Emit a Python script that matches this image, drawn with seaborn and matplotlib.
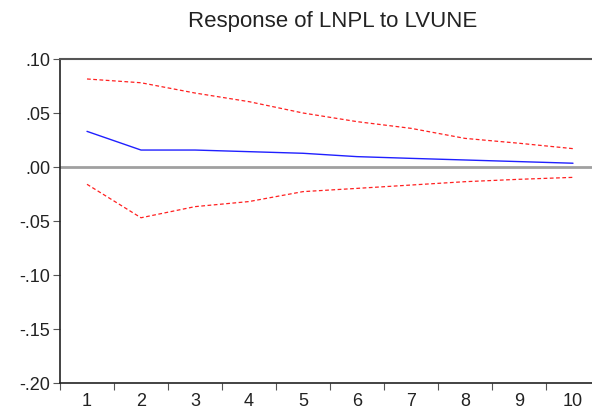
import seaborn as sns
import matplotlib.pyplot as plt
import matplotlib.ticker as mticker
import pandas as pd
import numpy as np

# ----------------------------
# Impulse response values
# ----------------------------
periods = [1, 2, 3, 4, 5, 6, 7, 8, 9, 10]
response = [0.033, 0.0157, 0.0157, 0.0142, 0.0127, 0.0096, 0.0080, 0.0065, 0.0050, 0.0035]
upper_band = [0.0815, 0.0780, 0.0685, 0.0605, 0.0500, 0.0420, 0.0358, 0.0265, 0.0220, 0.0170]
lower_band = [-0.0160, -0.0470, -0.0367, -0.0320, -0.0228, -0.0198, -0.0167, -0.0136, -0.0114, -0.0096]
y_ticks = [0.10, 0.05, 0.00, -0.05, -0.10, -0.15, -0.20]

df = pd.DataFrame({
    "Period": periods,
    "Response": response,
    "Upper": upper_band,
    "Lower": lower_band,
})

# ----------------------------
# Styling
# ----------------------------
sns.set_style("white")
plt.rcParams["font.family"] = ["Liberation Sans", "DejaVu Sans"]

fig = plt.figure(figsize=(5.92, 4.12), dpi=100)
# right edge of the frame falls just outside the picture, like the reference
ax = fig.add_axes([60 / 592, 29 / 412, 540 / 592, 324 / 412])

ax.axhline(0, color="#a0a0a0", linewidth=2, zorder=1)

sns.lineplot(data=df, x="Period", y="Upper", ax=ax, color="#ff2020",
             linestyle=(0, (3, 2)), linewidth=0.9)
sns.lineplot(data=df, x="Period", y="Lower", ax=ax, color="#ff2020",
             linestyle=(0, (3, 2)), linewidth=0.9)
sns.lineplot(data=df, x="Period", y="Response", ax=ax, color="#2020ff",
             linewidth=1.0)

ax.set_xlim(0.5, 10.5)
ax.set_ylim(-0.20, 0.10)

# x labels at category centres, tick marks between categories
ax.set_xticks(periods)
ax.set_xticks(np.arange(0.5, 11, 1.0), minor=True)
ax.tick_params(axis="x", which="major", bottom=True, length=0, pad=7,
               labelsize=13, colors="#222222")
ax.tick_params(axis="x", which="minor", bottom=True, length=5, width=0.8,
               color="#555555", direction="out")

ax.set_yticks(y_ticks)
ax.yaxis.set_major_formatter(mticker.FuncFormatter(
    lambda v, p: ("-" if v < -1e-9 else "") + f"{abs(v):.2f}"[1:]))
ax.tick_params(axis="y", left=True, length=5, width=0.8, color="#555555",
               direction="out", labelsize=13, labelcolor="#222222", pad=2)

for side in ["left", "bottom"]:
    ax.spines[side].set_color("#222222")
    ax.spines[side].set_linewidth(1.2)
for side in ["top", "right"]:
    ax.spines[side].set_color("#555555")
    ax.spines[side].set_linewidth(1.5)

ax.set_xlabel("")
ax.set_ylabel("")
fig.text(333 / 592, 1 - 21 / 412, "Response of LNPL to LVUNE",
         ha="center", va="center", fontsize=16, color="#222222")

plt.savefig("out.png", dpi=100)
plt.close()
